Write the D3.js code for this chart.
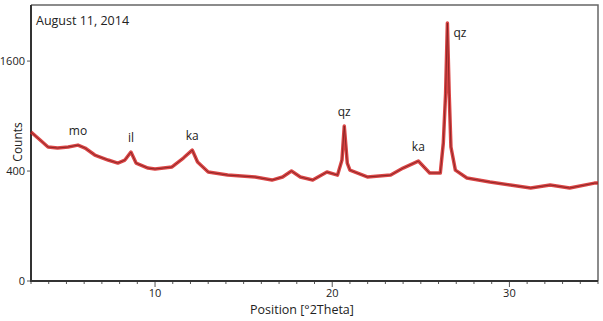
<!DOCTYPE html>
<html>
<head>
<meta charset="utf-8">
<script src="https://cdn.jsdelivr.net/npm/d3@7"></script>
<style>
  body { margin: 0; background: #fff; }
  svg text { font-family: "Open Sans", sans-serif; fill: #222; }
</style>
</head>
<body>
<svg id="chart" width="603" height="321"></svg>
<script>
// ---------------- Data ----------------
const positions = [3.0, 3.5, 3.96, 4.5, 5.1, 5.65, 6.05, 6.6, 7.35, 7.9, 8.3, 8.64, 8.93, 9.6, 10.0,
  10.96, 11.6, 12.1, 12.4, 13.0, 14.1, 15.65, 16.6, 17.2, 17.7, 18.2, 18.9, 19.7, 20.3, 20.55,
  20.68, 20.85, 21.0, 21.98, 23.3, 24.0, 24.86, 25.5, 26.1, 26.27, 26.4, 26.5, 26.6, 26.7, 26.95,
  27.6, 28.9, 30.05, 31.2, 32.3, 33.4, 34.8, 35.0];
const counts = [734, 660, 594, 585, 594, 611, 585, 525, 484, 460, 484, 550, 460, 422, 415,
  430, 500, 567, 468, 393, 371, 358, 337, 358, 400, 358, 337, 393, 371, 484,
  794, 460, 407, 358, 371, 422, 476, 386, 386, 630, 1168, 2200, 1168, 594, 407,
  351, 324, 305, 286, 305, 286, 317, 317];

const peakLabels = [
  { name: "mo", pos: 5.65, counts: 611 },
  { name: "il", pos: 8.64, counts: 550 },
  { name: "ka", pos: 12.1, counts: 567 },
  { name: "qz", pos: 20.68, counts: 794 },
  { name: "ka", pos: 24.86, counts: 476 },
  { name: "qz", pos: 26.5, counts: 2200 }
];

const yTicks = [0, 400, 1600];
const xTicks = [10, 20, 30];
const title = "August 11, 2014";

// ---------------- Layout ----------------
const svg = d3.select("#chart");
const mLeft = 31, mRight = 598, mTop = 5, mBottom = 281;

const x = d3.scaleLinear().domain([3, 35]).range([mLeft, mRight]);
const y = d3.scaleSqrt().domain([0, 2520]).range([mBottom, mTop]);

// frame (top / right)
svg.append("path")
  .attr("d", `M${mLeft},${mTop}H${mRight}V${mBottom}`)
  .attr("fill", "none")
  .attr("stroke", "#666")
  .attr("stroke-width", 1.5);

// x axis: minor ticks each degree
const xAxis = svg.append("g").attr("transform", `translate(0,${mBottom})`);
xAxis.selectAll("line")
  .data(d3.range(3, 36))
  .enter()
  .append("line")
  .attr("x1", d => x(d)).attr("x2", d => x(d))
  .attr("y1", 0)
  .attr("y2", d => xTicks.includes(d) ? 6 : 3)
  .attr("stroke", "#555")
  .attr("stroke-width", 1);
xAxis.selectAll("text")
  .data(xTicks)
  .enter()
  .append("text")
  .attr("x", d => x(d))
  .attr("y", 16)
  .attr("text-anchor", "middle")
  .attr("font-size", 11)
  .text(d => d);

// y axis
const yAxis = svg.append("g");
yAxis.selectAll("line")
  .data(yTicks)
  .enter()
  .append("line")
  .attr("x1", mLeft - 4).attr("x2", mLeft)
  .attr("y1", d => y(d)).attr("y2", d => y(d))
  .attr("stroke", "#555");
yAxis.selectAll("text")
  .data(yTicks)
  .enter()
  .append("text")
  .attr("x", mLeft - 6)
  .attr("y", d => y(d))
  .attr("dy", "0.35em")
  .attr("text-anchor", "end")
  .attr("font-size", 11)
  .text(d => d);

// axis lines (left / bottom)
svg.append("path")
  .attr("d", `M${mLeft},${mTop}V${mBottom}H${mRight}`)
  .attr("fill", "none")
  .attr("stroke", "#333")
  .attr("stroke-width", 2);

// ---------------- Pattern ----------------
const data = positions.map((p, i) => ({ p, c: counts[i] }));
const line = d3.line().x(d => x(d.p)).y(d => y(d.c));

svg.append("path")
  .datum(data)
  .attr("d", line)
  .attr("fill", "none")
  .attr("stroke", "#d42424")
  .attr("stroke-width", 3.5)
  .attr("stroke-linejoin", "round")
  .attr("opacity", 0.85);

svg.append("path")
  .datum(data)
  .attr("d", line)
  .attr("fill", "none")
  .attr("stroke", "#7a2020")
  .attr("stroke-width", 0.8)
  .attr("stroke-linejoin", "round");

// peak labels
svg.append("g")
  .selectAll("text")
  .data(peakLabels)
  .enter()
  .append("text")
  .attr("x", d => d.counts > 2000 ? x(d.pos) + 6 : x(d.pos))
  .attr("y", d => d.counts > 2000 ? y(d.counts) + 14 : y(d.counts) - 10)
  .attr("text-anchor", d => d.counts > 2000 ? "start" : "middle")
  .attr("font-size", 12)
  .text(d => d.name);

// title + axis titles
svg.append("text")
  .attr("x", mLeft + 5).attr("y", 25)
  .attr("font-size", 12.5)
  .text(title);

svg.append("text")
  .attr("transform", `translate(22,${y(640)}) rotate(-90)`)
  .attr("text-anchor", "middle")
  .attr("font-size", 12)
  .text("Counts");

svg.append("text")
  .attr("x", 302).attr("y", 314)
  .attr("text-anchor", "middle")
  .attr("font-size", 12.5)
  .text("Position [°2Theta]");
</script>
</body>
</html>
